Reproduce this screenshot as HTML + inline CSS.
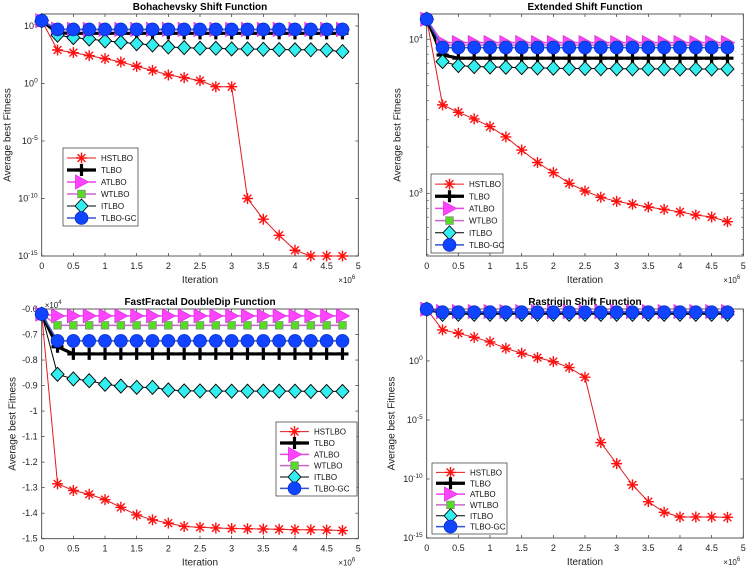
<!DOCTYPE html>
<html><head><meta charset="utf-8"><style>
html,body{margin:0;padding:0;background:#fff;}
svg{display:block;font-family:"Liberation Sans",Arial,sans-serif;}
</style></head><body>
<svg id="c" width="750" height="569" viewBox="0 0 750 569"></svg>
<script>
const iterations=[0,0.25,0.5,0.75,1,1.25,1.5,1.75,2,2.25,2.5,2.75,3,3.25,3.5,3.75,4,4.25,4.5,4.75];
const xTicks=[0,0.5,1,1.5,2,2.5,3,3.5,4,4.5,5];
const seriesNames=["HSTLBO","TLBO","ATLBO","WTLBO","ITLBO","TLBO-GC"];
// panel 1 (log10 values)
const p1HSTLBO=[5.46,2.91,2.68,2.42,2.16,1.87,1.49,1.14,0.74,0.51,0.25,-0.28,-0.28,-10,-11.8,-13.2,-14.5,-15,-15,-15];
const p1TLBO=[5.46,4.4,4.36,4.36,4.36,4.36,4.36,4.36,4.36,4.36,4.36,4.36,4.36,4.36,4.36,4.36,4.36,4.36,4.36,4.36];
const p1ATLBO=[5.46,4.72,4.7,4.7,4.7,4.7,4.7,4.7,4.7,4.7,4.7,4.7,4.7,4.7,4.7,4.7,4.7,4.7,4.7,4.7];
const p1WTLBO=[5.46,4.68,4.66,4.66,4.66,4.66,4.66,4.66,4.66,4.66,4.66,4.66,4.66,4.66,4.66,4.66,4.66,4.66,4.66,4.66];
const p1ITLBO=[5.46,4.2,3.99,3.87,3.7,3.58,3.46,3.35,3.17,3.12,3.06,3.06,3.0,3.0,2.97,2.95,2.93,2.93,2.9,2.77];
const p1GC=[5.46,4.7,4.7,4.7,4.7,4.7,4.7,4.7,4.7,4.7,4.7,4.7,4.7,4.7,4.7,4.7,4.7,4.7,4.7,4.7];
// panel 2 (log10 values)
const p2HSTLBO=[4.13,3.574,3.526,3.483,3.433,3.366,3.281,3.2,3.134,3.065,3.015,2.974,2.948,2.929,2.911,2.896,2.879,2.859,2.846,2.816];
const p2TLBO=[4.13,3.898,3.877,3.877,3.877,3.877,3.877,3.877,3.877,3.877,3.877,3.877,3.877,3.877,3.877,3.877,3.877,3.877,3.877,3.877];
const p2ATLBO=[4.13,3.978,3.978,3.978,3.978,3.978,3.978,3.978,3.978,3.978,3.978,3.978,3.978,3.978,3.978,3.978,3.978,3.978,3.978,3.978];
const p2WTLBO=[4.13,3.963,3.963,3.963,3.963,3.963,3.963,3.963,3.963,3.963,3.963,3.963,3.963,3.963,3.963,3.963,3.963,3.963,3.963,3.963];
const p2ITLBO=[4.13,3.855,3.829,3.823,3.82,3.818,3.816,3.814,3.812,3.81,3.81,3.809,3.809,3.808,3.808,3.808,3.807,3.807,3.807,3.807];
const p2GC=[4.13,3.946,3.946,3.946,3.946,3.946,3.946,3.946,3.946,3.946,3.946,3.946,3.946,3.946,3.946,3.946,3.946,3.946,3.946,3.946];
// panel 3 (×10^4)
const p3HSTLBO=[-0.62,-1.285,-1.311,-1.326,-1.347,-1.377,-1.407,-1.426,-1.439,-1.452,-1.455,-1.458,-1.46,-1.461,-1.462,-1.463,-1.465,-1.465,-1.466,-1.468];
const p3TLBO=[-0.62,-0.748,-0.776,-0.776,-0.776,-0.776,-0.776,-0.776,-0.776,-0.776,-0.776,-0.776,-0.776,-0.776,-0.776,-0.776,-0.776,-0.776,-0.776,-0.776];
const p3ATLBO=[-0.62,-0.627,-0.627,-0.627,-0.627,-0.627,-0.627,-0.627,-0.627,-0.627,-0.627,-0.627,-0.627,-0.627,-0.627,-0.627,-0.627,-0.627,-0.627,-0.627];
const p3WTLBO=[-0.62,-0.664,-0.664,-0.664,-0.664,-0.664,-0.664,-0.664,-0.664,-0.664,-0.664,-0.664,-0.664,-0.664,-0.664,-0.664,-0.664,-0.664,-0.664,-0.664];
const p3ITLBO=[-0.62,-0.856,-0.874,-0.881,-0.895,-0.902,-0.907,-0.907,-0.917,-0.921,-0.921,-0.922,-0.922,-0.922,-0.922,-0.922,-0.922,-0.923,-0.923,-0.923];
const p3GC=[-0.62,-0.725,-0.725,-0.725,-0.725,-0.725,-0.725,-0.725,-0.725,-0.725,-0.725,-0.725,-0.725,-0.725,-0.725,-0.725,-0.725,-0.725,-0.725,-0.725];
// panel 4 (log10 values)
const p4HSTLBO=[4.38,2.63,2.34,2.0,1.61,1.07,0.65,0.28,-0.06,-0.56,-1.38,-6.92,-8.7,-10.5,-11.92,-12.82,-13.22,-13.22,-13.22,-13.25];
const p4TLBO=[4.38,4.08,4.08,4.08,4.08,4.08,4.08,4.08,4.08,4.08,4.08,4.08,4.08,4.08,4.08,4.08,4.08,4.08,4.08,4.08];
const p4ATLBO=[4.38,4.18,4.18,4.18,4.18,4.18,4.18,4.18,4.18,4.18,4.18,4.18,4.18,4.18,4.18,4.18,4.18,4.18,4.18,4.18];
const p4WTLBO=[4.38,4.15,4.15,4.15,4.15,4.15,4.15,4.15,4.15,4.15,4.15,4.15,4.15,4.15,4.15,4.15,4.15,4.15,4.15,4.15];
const p4ITLBO=[4.38,3.95,3.95,3.95,3.95,3.95,3.95,3.95,3.95,3.95,3.95,3.95,3.95,3.95,3.95,3.95,3.95,3.95,3.95,3.95];
const p4GC=[4.38,4.13,4.13,4.13,4.13,4.13,4.13,4.13,4.13,4.13,4.13,4.13,4.13,4.13,4.13,4.13,4.13,4.13,4.13,4.13];
const logTicks1=[-15,-10,-5,0,5];
const logTicks2=[3,4];
const linTicks3=[-1.5,-1.4,-1.3,-1.2,-1.1,-1,-0.9,-0.8,-0.7,-0.6];
const logTicks4=[-15,-10,-5,0];

const NS="http://www.w3.org/2000/svg";
const svg=document.getElementById('c');
function el(tag,attrs,parent){const e=document.createElementNS(NS,tag);for(const k in attrs)e.setAttribute(k,attrs[k]);(parent||svg).appendChild(e);return e;}

const panels=[
 {key:'bohachevsky',title:'Bohachevsky Shift Function',x0:41.7,x1:358.3,yt:14,yb:256,ymin:-15,ymax:6.04,log:true,ticks:logTicks1,minor:false,
  data:[p1HSTLBO,p1TLBO,p1ATLBO,p1WTLBO,p1ITLBO,p1GC],leg:[63,148,75,78],ylabX:8},
 {key:'extended',title:'Extended Shift Function',x0:426.7,x1:743.3,yt:14,yb:256,ymin:2.593,ymax:4.164,log:true,ticks:logTicks2,minor:true,
  data:[p2HSTLBO,p2TLBO,p2ATLBO,p2WTLBO,p2ITLBO,p2GC],leg:[431,174,72,79],ylabX:398},
 {key:'fastfractal',title:'FastFractal DoubleDip Function',x0:41.7,x1:358.3,yt:309,yb:538.7,ymin:-1.5,ymax:-0.6,log:false,ticks:linTicks3,
  data:[p3HSTLBO,p3TLBO,p3ATLBO,p3WTLBO,p3ITLBO,p3GC],leg:[276,422,81,74],ylabX:13},
 {key:'rastrigin',title:'Rastrigin Shift Function',x0:426.7,x1:743.3,yt:309,yb:538,ymin:-15,ymax:4.4,log:true,ticks:logTicks4,minor:false,
  data:[p4HSTLBO,p4TLBO,p4ATLBO,p4WTLBO,p4ITLBO,p4GC],leg:[432,463,75,71],ylabX:392}
];

const styles=[
 {line:'#e31a1c',w:1,m:'star'},
 {line:'#000',w:3.2,m:'plus'},
 {line:'#ee44ee',w:1.5,m:'tri'},
 {line:'#cc66cc',w:1.5,m:'sq'},
 {line:'#000',w:1,m:'dia'},
 {line:'#3355cc',w:1.5,m:'circ'}
];

function marker(g,type,x,y){
 if(type==='star'){
  const r=5.5;let d='';
  for(let a=0;a<4;a++){const t=a*Math.PI/4;d+=`M${x-r*Math.cos(t)},${y-r*Math.sin(t)}L${x+r*Math.cos(t)},${y+r*Math.sin(t)}`;}
  el('path',{d:d,stroke:'#ff1010',"stroke-width":1.4,fill:'none'},g);
 }else if(type==='plus'){
  el('path',{d:`M${x-6},${y}H${x+6}M${x},${y-6}V${y+6}`,stroke:'#000',"stroke-width":3.2,fill:'none'},g);
 }else if(type==='tri'){
  el('path',{d:`M${x-6},${y-7}L${x+7},${y}L${x-6},${y+7}Z`,fill:'#ff44ff',stroke:'#dd33dd',"stroke-width":0.8},g);
 }else if(type==='sq'){
  el('rect',{x:x-3.8,y:y-3.8,width:7.6,height:7.6,fill:'#55dd22',stroke:'#888',"stroke-width":0.8},g);
 }else if(type==='dia'){
  el('path',{d:`M${x},${y-7}L${x+6.5},${y}L${x},${y+7}L${x-6.5},${y}Z`,fill:'#33eeee',stroke:'#000',"stroke-width":0.9},g);
 }else{
  el('circle',{cx:x,cy:y,r:6.5,fill:'#1144ff',stroke:'#0022bb',"stroke-width":0.6},g);
 }
}

function tickLabel(g,p,v,y){
 const t=el('text',{x:p.x0-4,y:y+3,"text-anchor":'end',"font-size":'9',fill:'#222'},g);
 
 
 if(p.log){
  t.appendChild(document.createTextNode('10'));
  const s=el('tspan',{dy:'-4',"font-size":'6.5'},t);s.textContent=String(v);
 }else{
  t.textContent=String(v);
 }
}

panels.forEach(p=>{
 const g=el('g',{});
 
 
 const X=v=>p.x0+(v-0)/(5-0)*(p.x1-p.x0);
 const Y=v=>p.yb-(v-p.ymin)/(p.ymax-p.ymin)*(p.yb-p.yt);
 const box=el('rect',{x:p.x0,y:p.yt,width:p.x1-p.x0,height:p.yb-p.yt,fill:'#fff',stroke:'#333',"stroke-width":0.8},g);
 
 
 xTicks.forEach(v=>{
  const x=X(v);
  el('line',{x1:x,y1:p.yb,x2:x,y2:p.yb-3,stroke:'#333',"stroke-width":0.7},g);
  el('line',{x1:x,y1:p.yt,x2:x,y2:p.yt+3,stroke:'#333',"stroke-width":0.7},g);
  const t=el('text',{x:x,y:p.yb+13,"text-anchor":'middle',"font-size":'9',fill:'#222'},g);
  t.textContent=String(v);
  
  
 });
 p.ticks.forEach(v=>{
  const y=Y(v);
  el('line',{x1:p.x0,y1:y,x2:p.x0+3,y2:y,stroke:'#333',"stroke-width":0.7},g);
  el('line',{x1:p.x1,y1:y,x2:p.x1-3,y2:y,stroke:'#333',"stroke-width":0.7},g);
  tickLabel(g,p,v,y);
 });
 if(p.minor){
  for(let d=2;d<=4;d++)for(let k=2;k<=9;k++){
   const v=d+Math.log10(k);
   if(v<p.ymin||v>p.ymax)continue;
   const y=Y(v);
   el('line',{x1:p.x0,y1:y,x2:p.x0+2,y2:y,stroke:'#333',"stroke-width":0.6},g);
   el('line',{x1:p.x1,y1:y,x2:p.x1-2,y2:y,stroke:'#333',"stroke-width":0.6},g);
  }
 }
 const tt=el('text',{x:(p.x0+p.x1)/2,y:p.yt-4,"text-anchor":'middle',"font-size":'10',"font-weight":'bold',fill:'#000'},g);
 tt.textContent=p.title;
 
 
 const xl=el('text',{x:(p.x0+p.x1)/2,y:p.yb+27,"text-anchor":'middle',"font-size":'10',fill:'#222'},g);
 xl.textContent='Iteration';
 
 
 const ex=el('text',{x:p.x1-20,y:p.yb+27,"font-size":'8',fill:'#222'},g);
 ex.textContent='\u00d710';
 const es=el('tspan',{dy:'-4',"font-size":'6'},ex);es.textContent='6';
 
 
 const yc=(p.yt+p.yb)/2;
 const yl=el('text',{x:p.ylabX,y:yc,"text-anchor":'middle',"font-size":'10',fill:'#222',transform:`rotate(-90 ${p.ylabX} ${yc})`,"dominant-baseline":'central'},g);
 yl.textContent='Average best Fitness';
 
 
 if(!p.log){
  const e4=el('text',{x:p.x0+3,y:p.yt-1,"font-size":'8',fill:'#222'},g);
  e4.textContent='\u00d710';
  const s4=el('tspan',{dy:'-4',"font-size":'6'},e4);s4.textContent='4';
  
  
 }
 p.data.forEach((arr,si)=>{
  const st=styles[si];
  const sg=el('g',{},g);
  
  
  const pts=arr.map((v,i)=>X(iterations[i])+','+Y(v)).join(' ');
  el('polyline',{points:pts,fill:'none',stroke:st.line,"stroke-width":st.w},sg);
  arr.forEach((v,i)=>marker(sg,st.m,X(iterations[i]),Y(v)));
 });
 const [lx,ly,lw,lh]=p.leg;
 const lg=el('g',{},g);
 
 
 el('rect',{x:lx,y:ly,width:lw,height:lh,fill:'#fff',stroke:'#333',"stroke-width":0.7},lg);
 const rh=(lh-6)/6;
 seriesNames.forEach((n,i)=>{
  const st=styles[i];
  const y=ly+4+rh*(i+0.5);
  const eg=el('g',{},lg);
  
  
  el('line',{x1:lx+4,y1:y,x2:lx+33,y2:y,stroke:st.line,"stroke-width":st.w},eg);
  marker(eg,st.m,lx+18.5,y);
  const t=el('text',{x:lx+38,y:y+3,"font-size":'8',fill:'#111'},eg);
  t.textContent=n;
 });
});
</script>
</body></html>
